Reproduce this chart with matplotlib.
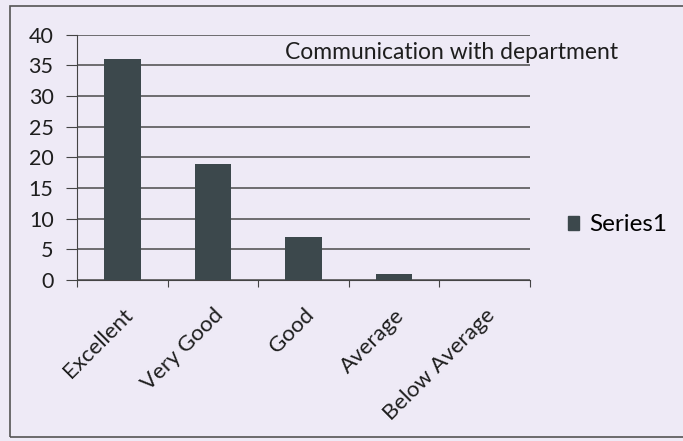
import matplotlib.pyplot as plt
from matplotlib.patches import Rectangle, Patch

categories = ['Excellent', 'Very Good', 'Good', 'Average', 'Below Average']
values = [36, 19, 7, 1, 0]
yticks = [0, 5, 10, 15, 20, 25, 30, 35, 40]

plt.rcParams['font.family'] = ['Lato', 'DejaVu Sans']

bg = '#eeeaf6'
bar_color = '#3c484c'
text_color = '#1e1e1e'

fig = plt.figure(figsize=(6.83, 4.41), dpi=100, facecolor=bg)
ax = fig.add_axes([0.113, 0.365, 0.663, 0.556])
ax.set_facecolor(bg)

# chart border (right edge runs off the picture)
fig.patches.append(Rectangle((10 / 683, 4 / 441), 1.0, 431 / 441,
                             transform=fig.transFigure, fill=False,
                             edgecolor='#555555', linewidth=1.2))

x = list(range(len(categories)))
ax.bar(x, values, width=0.4, color=bar_color, zorder=3)

ax.set_xlim(-0.5, len(categories) - 0.5)
ax.set_ylim(0, 40)
ax.set_yticks(yticks)
ax.set_yticklabels([str(t) for t in yticks], fontsize=15.5, color=text_color)
ax.yaxis.grid(True, color='#4a4a4a', linewidth=1.1, zorder=0)

# category ticks between bars, labels under each bar
ax.set_xticks([i - 0.5 for i in range(len(categories) + 1)])
ax.set_xticklabels([])
ax.set_xticks(x, minor=True)
ax.set_xticklabels(categories, minor=True, rotation=45, ha='right',
                   rotation_mode='anchor', fontsize=16, color=text_color)
ax.tick_params(axis='x', which='minor', length=0, pad=18)
ax.tick_params(axis='x', which='major', length=5, direction='out', color='#444444')
ax.tick_params(axis='y', length=8, direction='out', color='#444444', pad=9)

for s in ['top', 'right']:
    ax.spines[s].set_visible(False)
ax.spines['left'].set_color('#444444')
ax.spines['bottom'].set_color('#444444')

ax.text(0.827, 0.93, 'Communication with department', transform=ax.transAxes,
        ha='center', va='center', fontsize=16.5, color=text_color)

fig.legend(handles=[Patch(color=bar_color, label='Series1')],
           loc='center left', bbox_to_anchor=(0.799, 0.49), frameon=False,
           fontsize=17.5, handlelength=0.45, handleheight=0.5, handletextpad=0.45)

fig.savefig('out.png', dpi=100, facecolor=bg)
